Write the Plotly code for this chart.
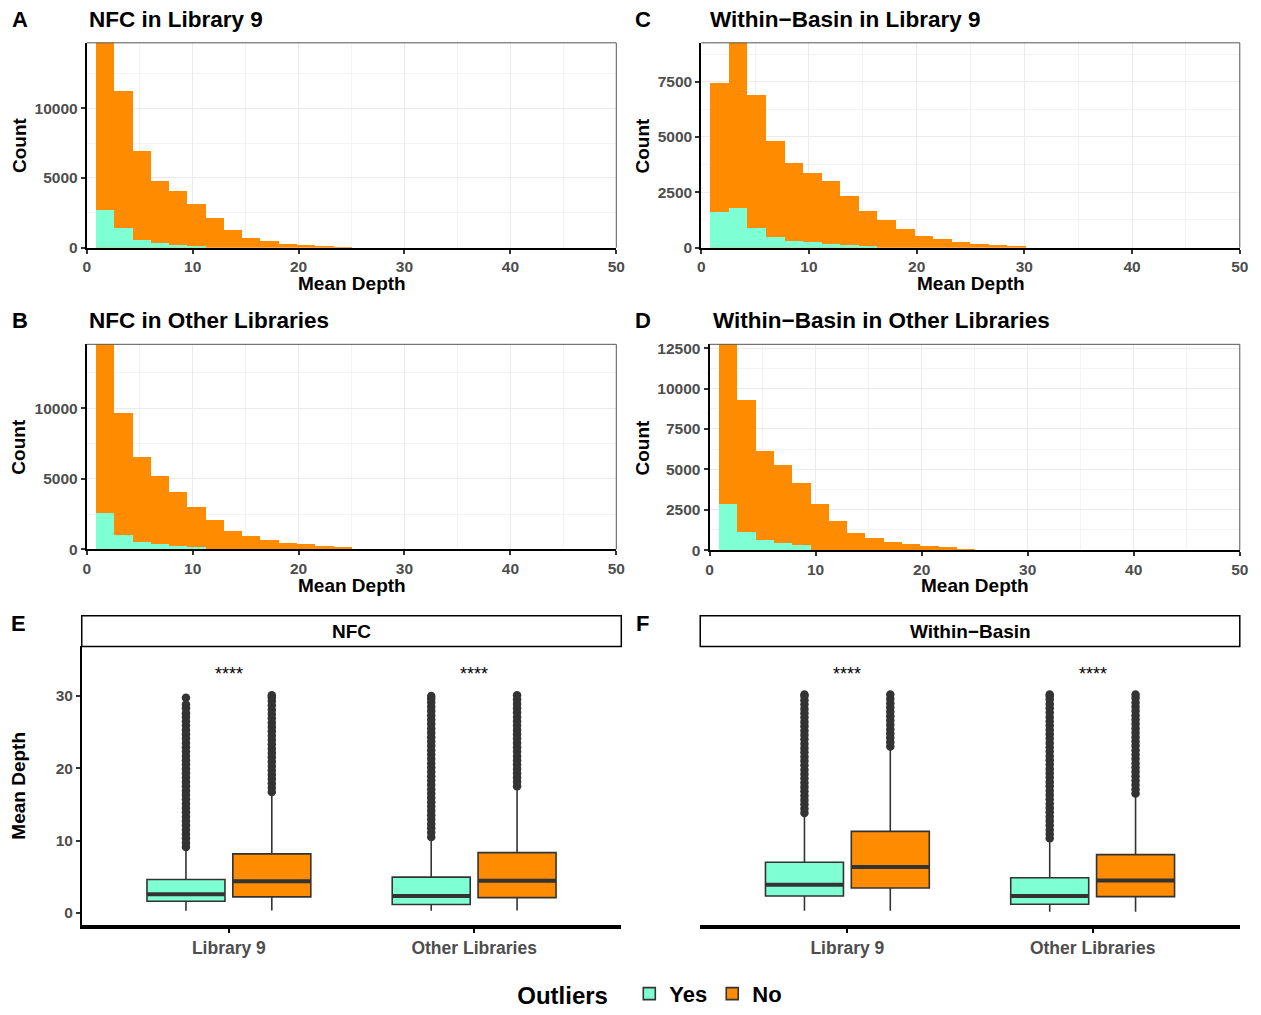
import plotly.graph_objects as go

W, H = 1261, 1015
FONT = "Liberation Sans, Arial, Helvetica, sans-serif"
TEAL = "#7FFFD4"
ORANGE = "#FF8C00"
DARK = "#333333"
GRAYTXT = "#4D4D4D"

# ---------------- histogram data (bin width ~1.724) ----------------
bin_centers = [1.724, 3.448, 5.172, 6.897, 8.621, 10.345, 12.069, 13.793, 15.517,
               17.241, 18.966, 20.690, 22.414, 24.138, 25.862, 27.586, 29.310, 31.034]
BIN_WIDTH = 1.724

nfc_lib9_no = [17000, 11280, 6940, 4770, 4050, 3150, 2150, 1270, 730, 470, 300, 180, 90, 25]
nfc_lib9_yes = [2720, 1420, 590, 310, 190, 110]

nfc_other_no = [16500, 9670, 6490, 5200, 4050, 2950, 2060, 1280, 950, 640, 440, 330, 220, 150]
nfc_other_yes = [2570, 1000, 530, 350, 200, 120]

wb_lib9_no = [7440, 9800, 6900, 4820, 3850, 3370, 3030, 2330, 1680, 1250, 840, 530, 390, 270, 190, 145, 90]
wb_lib9_yes = [1600, 1810, 910, 470, 310, 240, 180, 130, 50]

wb_other_no = [14500, 9300, 6130, 5270, 4120, 2810, 1760, 1010, 710, 510, 350, 250, 170, 40]
wb_other_yes = [2850, 1100, 600, 410, 290]

# ---------------- boxplot data ----------------
box_categories = ["Library 9", "Other Libraries"]

nfc_yes_q1 = [1.60, 1.14]
nfc_yes_med = [2.56, 2.33]
nfc_yes_q3 = [4.60, 4.94]
nfc_yes_lo = [0.27, 0.27]
nfc_yes_hi = [8.8, 10.2]
nfc_no_q1 = [2.20, 2.10]
nfc_no_med = [4.35, 4.44]
nfc_no_q3 = [8.15, 8.33]
nfc_no_lo = [0.30, 0.30]
nfc_no_hi = [16.4, 17.2]

wb_yes_q1 = [2.33, 1.18]
wb_yes_med = [3.89, 2.33]
wb_yes_q3 = [7.00, 4.85]
wb_yes_lo = [0.27, 0.14]
wb_yes_hi = [13.4, 9.9]
wb_no_q1 = [3.43, 2.24]
wb_no_med = [6.32, 4.48]
wb_no_q3 = [11.26, 8.05]
wb_no_lo = [0.27, 0.14]
wb_no_hi = [22.6, 16.2]

nfc_lib9_yes_out = [9.1, 9.7, 10.3, 10.9, 11.5, 12.1, 12.7, 13.3, 13.9, 14.5, 15.1, 15.7, 16.3, 16.9,
                    17.5, 18.1, 18.7, 19.3, 19.9, 20.5, 21.1, 21.7, 22.3, 22.9, 23.5, 24.1, 24.7, 25.3,
                    25.9, 26.5, 27.1, 27.6, 28.3, 28.8, 29.75]
nfc_lib9_no_out = [16.7, 17.3, 17.9, 18.5, 19.1, 19.7, 20.3, 20.9, 21.5, 22.1, 22.7, 23.3, 23.9, 24.5,
                   25.1, 25.7, 26.3, 26.9, 27.5, 28.1, 28.7, 29.3, 29.8, 30.1]
nfc_other_yes_out = [10.5, 11.1, 11.7, 12.3, 12.9, 13.5, 14.1, 14.7, 15.3, 15.9, 16.5, 17.1, 17.7, 18.3,
                     18.9, 19.5, 20.1, 20.7, 21.3, 21.9, 22.5, 23.1, 23.7, 24.3, 24.9, 25.5, 26.1, 26.7,
                     27.3, 27.9, 28.5, 29.1, 29.6, 30.0]
nfc_other_no_out = [17.5, 18.1, 18.7, 19.3, 19.9, 20.5, 21.1, 21.7, 22.3, 22.9, 23.5, 24.1, 24.7, 25.3,
                    25.9, 26.5, 27.1, 27.7, 28.3, 28.9, 29.5, 30.1]
wb_lib9_yes_out = [13.8, 14.4, 15.0, 15.6, 16.2, 16.8, 17.4, 18.0, 18.6, 19.2, 19.8, 20.4, 21.0, 21.6,
                   22.2, 22.8, 23.4, 24.0, 24.6, 25.2, 25.8, 26.4, 27.0, 27.6, 28.2, 28.8, 29.4, 30.0, 30.2]
wb_lib9_no_out = [23.0, 23.6, 24.2, 24.8, 25.4, 26.0, 26.6, 27.2, 27.8, 28.4, 29.0, 29.6, 30.2]
wb_other_yes_out = [10.3, 10.9, 11.5, 12.1, 12.7, 13.3, 13.9, 14.5, 15.1, 15.7, 16.3, 16.9, 17.5, 18.1,
                    18.7, 19.3, 19.9, 20.5, 21.1, 21.7, 22.3, 22.9, 23.5, 24.1, 24.7, 25.3, 25.9, 26.5,
                    27.1, 27.7, 28.3, 28.9, 29.5, 30.0, 30.2]
wb_other_no_out = [16.5, 17.1, 17.7, 18.3, 18.9, 19.5, 20.1, 20.7, 21.3, 21.9, 22.5, 23.1, 23.7, 24.3,
                   24.9, 25.5, 26.1, 26.7, 27.3, 27.9, 28.5, 29.1, 29.7, 30.2]

signif_label = "****"
signif_y = 33.1

# empirical correction for the screenshot pipeline (target pixel -> layout pixel)
SX, CX = 0.9905, 3.2
SY, CY = 0.9825, 4.9


def px_x(p):
    return ((p - CX) / SX) / W


def px_y(p):
    return 1 - ((p - CY) / SY) / H


fig = go.Figure()
layout = dict(
    width=W, height=H, margin=dict(l=0, r=0, t=0, b=0), autosize=False,
    paper_bgcolor="white", plot_bgcolor="white",
    font=dict(family=FONT, color="black"),
    barmode="overlay", boxmode="overlay", bargap=0,
    showlegend=True,
)
shapes = []
annotations = []

tickfont = dict(family=FONT, size=15.5, color=GRAYTXT, weight="bold")


def add_text(text, x, y, size, xanchor="center", angle=0, color="black"):
    annotations.append(dict(text=text, x=px_x(x), y=px_y(y), xref="paper", yref="paper",
                            showarrow=False, xanchor=xanchor, yanchor="middle", textangle=angle,
                            font=dict(family=FONT, size=size, color=color, weight="bold")))


hist_panels = [
    dict(ax="", no=nfc_lib9_no, yes=nfc_lib9_yes, x0=86, x1=616, y0=43, y1=249.3, ymax=14690,
         dtick=5000, letter="A", lx=19, title="NFC in Library 9", tx=86, ty=20, cx=18),
    dict(ax="2", no=wb_lib9_no, yes=wb_lib9_yes, x0=701, x1=1240, y0=43, y1=249.3, ymax=9256,
         dtick=2500, letter="C", lx=643, title="Within\u2212Basin in Library 9", tx=708, ty=20, cx=642),
    dict(ax="3", no=nfc_other_no, yes=nfc_other_yes, x0=86, x1=616, y0=346.7, y1=553.3, ymax=14520,
         dtick=5000, letter="B", lx=19, title="NFC in Other Libraries", tx=86, ty=323, cx=18),
    dict(ax="4", no=wb_other_no, yes=wb_other_yes, x0=709.3, x1=1240, y0=346.7, y1=554, ymax=12740,
         dtick=2500, letter="D", lx=643, title="Within\u2212Basin in Other Libraries", tx=711, ty=323, cx=642),
]

for p in hist_panels:
    a = p["ax"]
    xr, yr = "x" + a, "y" + a
    fig.add_trace(go.Bar(x=bin_centers[:len(p["no"])], y=p["no"], width=BIN_WIDTH,
                         marker=dict(color=ORANGE, line=dict(width=0)), xaxis=xr, yaxis=yr,
                         showlegend=False, hoverinfo="skip"))
    fig.add_trace(go.Bar(x=bin_centers[:len(p["yes"])], y=p["yes"], width=BIN_WIDTH,
                         marker=dict(color=TEAL, line=dict(width=0)), xaxis=xr, yaxis=yr,
                         showlegend=False, hoverinfo="skip"))
    layout["xaxis" + a] = dict(
        domain=[px_x(p["x0"]), px_x(p["x1"])], range=[0, 50], anchor=yr,
        tickmode="linear", tick0=0, dtick=10, ticks="outside", ticklen=4, tickwidth=1.5, tickcolor=DARK,
        showline=True, linecolor="black", linewidth=2, zeroline=False,
        showgrid=True, gridcolor="#EBEBEB", gridwidth=1.2,
        minor=dict(dtick=5, tick0=0, showgrid=True, gridcolor="#F3F3F3", gridwidth=1, ticks=""),
        tickfont=tickfont, tickformat="d", fixedrange=True)
    layout["yaxis" + a] = dict(
        domain=[px_y(p["y1"]), px_y(p["y0"])], range=[0, p["ymax"]], anchor=xr,
        tickmode="linear", tick0=0, dtick=p["dtick"], ticks="outside", ticklen=4, tickwidth=1.5,
        tickcolor=DARK, showline=True, linecolor="black", linewidth=2, zeroline=False,
        showgrid=True, gridcolor="#EBEBEB", gridwidth=1.2,
        minor=dict(dtick=p["dtick"] / 2, tick0=0, showgrid=True, gridcolor="#F3F3F3", gridwidth=1, ticks=""),
        tickfont=tickfont, tickformat="d", fixedrange=True)
    shapes.append(dict(type="line", xref="paper", yref="paper", x0=px_x(p["x0"]), x1=px_x(p["x1"]),
                       y0=px_y(p["y0"]), y1=px_y(p["y0"]), line=dict(color="#555555", width=1), layer="above"))
    shapes.append(dict(type="line", xref="paper", yref="paper", x0=px_x(p["x1"]), x1=px_x(p["x1"]),
                       y0=px_y(p["y0"]), y1=px_y(p["y1"]), line=dict(color="#555555", width=1), layer="above"))
    add_text(p["letter"], p["lx"], p["ty"], 22)
    add_text(p["title"], p["tx"], p["ty"], 22.5, xanchor="left")
    add_text("Count", p["cx"], (p["y0"] + p["y1"]) / 2, 19, angle=-90)
    add_text("Mean Depth", (p["x0"] + p["x1"]) / 2, p["y1"] + 36, 19)

# ---------------- boxplot panels ----------------
DODGE = 0.175
BOXW = 0.318
cat_pos = [1, 2]

box_panels = [
    dict(ax="5", x0=81, x1=621, strip="NFC", letter="E", lx=18, show_y=True,
         groups=[("Yes", TEAL, -DODGE, nfc_yes_q1, nfc_yes_med, nfc_yes_q3, nfc_yes_lo, nfc_yes_hi,
                  [nfc_lib9_yes_out, nfc_other_yes_out]),
                 ("No", ORANGE, DODGE, nfc_no_q1, nfc_no_med, nfc_no_q3, nfc_no_lo, nfc_no_hi,
                  [nfc_lib9_no_out, nfc_other_no_out])]),
    dict(ax="6", x0=700, x1=1240, strip="Within\u2212Basin", letter="F", lx=642, show_y=False,
         groups=[("Yes", TEAL, -DODGE, wb_yes_q1, wb_yes_med, wb_yes_q3, wb_yes_lo, wb_yes_hi,
                  [wb_lib9_yes_out, wb_other_yes_out]),
                 ("No", ORANGE, DODGE, wb_no_q1, wb_no_med, wb_no_q3, wb_no_lo, wb_no_hi,
                  [wb_lib9_no_out, wb_other_no_out])]),
]

BOX_TOP, BOX_BOT, STRIP_TOP = 651, 932, 620
YRANGE = [-1.74, 36.85]

for bp in box_panels:
    a = bp["ax"]
    xr, yr = "x" + a, "y" + a
    for (label, color, off, q1, med, q3, lo, hi, outs) in bp["groups"]:
        xs = [c + off for c in cat_pos]
        fig.add_trace(go.Box(x=xs, q1=q1, median=med, q3=q3, lowerfence=lo, upperfence=hi,
                             width=BOXW, fillcolor=color, line=dict(color=DARK, width=1.6),
                             whiskerwidth=0, boxpoints=False, name=label, legendgroup=label,
                             showlegend=(a == "5"), xaxis=xr, yaxis=yr, hoverinfo="skip"))
        mx, my = [], []
        for c, m in zip(xs, med):
            mx += [c - BOXW / 2, c + BOXW / 2, None]
            my += [m, m, None]
        fig.add_trace(go.Scatter(x=mx, y=my, mode="lines", line=dict(color=DARK, width=4),
                                 xaxis=xr, yaxis=yr, showlegend=False, hoverinfo="skip"))
        ox, oy = [], []
        for c, vals in zip(xs, outs):
            ox += [c] * len(vals)
            oy += vals
        fig.add_trace(go.Scatter(x=ox, y=oy, mode="markers",
                                 marker=dict(color=DARK, size=8.5, line=dict(width=0)),
                                 xaxis=xr, yaxis=yr, showlegend=False, hoverinfo="skip"))
    for c in cat_pos:
        annotations.append(dict(text=signif_label, x=c, y=signif_y, xref=xr, yref=yr, showarrow=False,
                                font=dict(family=FONT, size=18, color="black")))
    layout["xaxis" + a] = dict(
        domain=[px_x(bp["x0"]), px_x(bp["x1"])], range=[0.4, 2.6], anchor=yr,
        tickmode="array", tickvals=cat_pos, ticktext=box_categories,
        ticks="outside", ticklen=4, tickwidth=1.5, tickcolor="black",
        showline=True, linecolor="black", linewidth=4, showgrid=False, zeroline=False,
        tickfont=dict(family=FONT, size=17.5, color=GRAYTXT, weight="bold"), fixedrange=True)
    layout["yaxis" + a] = dict(
        domain=[px_y(BOX_BOT), px_y(BOX_TOP)], range=YRANGE, anchor=xr,
        tickmode="array", tickvals=[0, 10, 20, 30],
        ticks="outside" if bp["show_y"] else "", ticklen=4, tickwidth=1.5, tickcolor=DARK,
        showticklabels=bp["show_y"], showline=bp["show_y"], linecolor="black", linewidth=1.5,
        showgrid=False, zeroline=False, tickfont=tickfont, fixedrange=True)
    shapes.append(dict(type="rect", xref="paper", yref="paper", x0=px_x(bp["x0"]), x1=px_x(bp["x1"]),
                       y0=px_y(BOX_TOP), y1=px_y(STRIP_TOP), fillcolor="white",
                       line=dict(color="black", width=1.5), layer="above"))
    add_text(bp["strip"], (bp["x0"] + bp["x1"]) / 2, (STRIP_TOP + BOX_TOP) / 2, 19)
    add_text(bp["letter"], bp["lx"], 628, 22)

add_text("Mean Depth", 18, (BOX_TOP + BOX_BOT) / 2, 19, angle=-90)

layout["legend"] = dict(
    orientation="h", x=px_x(651), xanchor="center", y=px_y(1001), yanchor="middle",
    title=dict(text="Outliers  ", side="left", font=dict(family=FONT, size=24, weight="bold")),
    font=dict(family=FONT, size=22, color="black", weight="bold"),
    bgcolor="rgba(0,0,0,0)", itemwidth=30, tracegroupgap=0)
layout["shapes"] = shapes
layout["annotations"] = annotations

fig.update_layout(**layout)
fig.write_html("out.html")
